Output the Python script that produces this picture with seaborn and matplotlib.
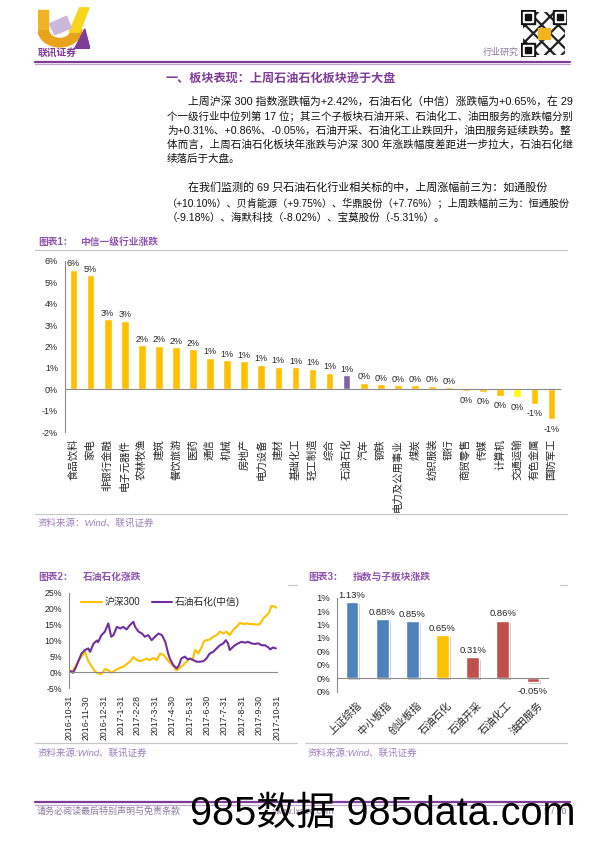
import numpy as np
import pandas as pd
import matplotlib
matplotlib.use('Agg')
import matplotlib.pyplot as plt
import matplotlib.dates as mdates
import matplotlib.patheffects as pe
from matplotlib.patches import Rectangle, Polygon, Wedge
import seaborn as sns

# ---------------- data ----------------
industries = ['食品饮料', '家电', '非银行金融', '电子元器件', '农林牧渔', '建筑', '餐饮旅游', '医药',
              '通信', '机械', '房地产', '电力设备', '建材', '基础化工', '轻工制造', '综合', '石油石化',
              '汽车', '钢铁', '电力及公用事业', '煤炭', '纺织服装', '银行', '商贸零售', '传媒', '计算机',
              '交通运输', '有色金属', '国防军工']
industry_change = [5.60, 5.33, 3.28, 3.21, 2.07, 2.04, 1.97, 1.87, 1.47, 1.35, 1.30, 1.14, 1.05, 1.02,
                   0.96, 0.77, 0.65, 0.31, 0.25, 0.20, 0.20, 0.17, 0.11, -0.06, -0.11, -0.31, -0.36,
                   -0.67, -1.41]

hs300_dates = ['2016-10-31', '2016-11-07', '2016-11-16', '2016-11-22', '2016-11-28', '2016-12-04',
               '2016-12-10', '2016-12-16', '2016-12-21', '2016-12-27', '2017-01-02', '2017-01-08',
               '2017-01-14', '2017-01-20', '2017-01-26', '2017-02-03', '2017-02-09', '2017-02-15',
               '2017-02-21', '2017-02-27', '2017-03-05', '2017-03-10', '2017-03-16', '2017-03-22',
               '2017-03-28', '2017-04-03', '2017-04-09', '2017-04-15', '2017-04-20', '2017-04-26',
               '2017-04-29', '2017-05-03', '2017-05-07', '2017-05-10', '2017-05-14', '2017-05-19',
               '2017-05-25', '2017-05-31', '2017-06-05', '2017-06-09', '2017-06-15', '2017-06-21',
               '2017-06-24', '2017-06-29', '2017-07-05', '2017-07-11', '2017-07-17', '2017-07-23',
               '2017-07-29', '2017-08-03', '2017-08-09', '2017-08-15', '2017-08-21', '2017-08-27',
               '2017-09-02', '2017-09-08', '2017-09-13', '2017-09-19', '2017-09-25', '2017-10-01',
               '2017-10-07', '2017-10-13', '2017-10-17', '2017-10-21', '2017-10-27', '2017-10-31']
hs300_values = [0.0, 0.6, 3.3, 5.0, 6.4, 3.5, 1.7, 0.1, -0.4, -0.6, 1.0, 0.6, -0.2, 0.6, 1.2, 1.7,
                2.5, 3.3, 4.8, 3.8, 3.5, 3.8, 4.3, 3.8, 4.5, 3.8, 5.9, 5.4, 4.3, 3.0, 2.5, 1.8, 0.6,
                0.8, 1.5, 2.2, 3.3, 4.3, 4.0, 7.0, 5.9, 8.0, 9.6, 10.1, 10.3, 11.2, 11.7, 12.8, 12.2,
                12.8, 11.7, 13.3, 14.3, 15.6, 15.2, 15.4, 15.2, 15.2, 15.0, 15.2, 17.0, 18.0, 18.8,
                20.9, 20.7, 20.3]

petro_dates = ['2016-10-31', '2016-11-03', '2016-11-07', '2016-11-12', '2016-11-16', '2016-11-22',
               '2016-11-28', '2016-12-04', '2016-12-07', '2016-12-13', '2016-12-19', '2016-12-21',
               '2016-12-27', '2017-01-02', '2017-01-08', '2017-01-13', '2017-01-17', '2017-01-23',
               '2017-01-29', '2017-02-03', '2017-02-09', '2017-02-15', '2017-02-21', '2017-02-24',
               '2017-03-02', '2017-03-08', '2017-03-13', '2017-03-19', '2017-03-25', '2017-03-31',
               '2017-04-06', '2017-04-12', '2017-04-18', '2017-04-23', '2017-04-26', '2017-05-02',
               '2017-05-08', '2017-05-12', '2017-05-16', '2017-05-22', '2017-05-28', '2017-05-31',
               '2017-06-06', '2017-06-12', '2017-06-18', '2017-06-24', '2017-06-29', '2017-07-05',
               '2017-07-11', '2017-07-17', '2017-07-23', '2017-07-29', '2017-08-02', '2017-08-06',
               '2017-08-09', '2017-08-12', '2017-08-18', '2017-08-24', '2017-08-30', '2017-09-05',
               '2017-09-10', '2017-09-16', '2017-09-22', '2017-09-28', '2017-10-04', '2017-10-10',
               '2017-10-16', '2017-10-19', '2017-10-24', '2017-10-29']
petro_values = [0.0, 0.3, -0.2, 1.5, 3.3, 5.9, 7.0, 7.5, 6.4, 9.0, 10.0, 9.5, 11.7, 12.8, 15.4, 11.2,
                11.7, 14.3, 13.8, 14.3, 13.5, 14.9, 15.9, 14.3, 12.8, 12.2, 11.2, 11.7, 10.1, 11.2,
                12.2, 11.7, 9.6, 5.9, 4.3, 2.2, 1.2, 2.2, 4.3, 4.9, 4.0, 4.3, 3.8, 3.3, 3.3, 3.5, 4.3,
                5.9, 6.4, 7.5, 8.5, 9.1, 10.1, 9.1, 7.0, 7.5, 8.5, 9.1, 9.6, 9.3, 9.6, 9.1, 8.9, 9.1,
                8.5, 8.5, 7.8, 7.2, 7.8, 7.5]

month_ticks = ['2016-10-31', '2016-11-30', '2016-12-31', '2017-01-31', '2017-02-28', '2017-03-31',
               '2017-04-30', '2017-05-31', '2017-06-30', '2017-07-31', '2017-08-31', '2017-09-30',
               '2017-10-31']
month_labels = ['2016-10-31', '2016-11-30', '2016-12-31', '2017-1-31', '2017-2-28', '2017-3-31',
                '2017-4-30', '2017-5-31', '2017-6-30', '2017-7-31', '2017-8-31', '2017-9-30',
                '2017-10-31']
line_names = ['沪深300', '石油石化(中信)']

sub_names = ['上证综指', '中小板指', '创业板指', '石油石化', '石油开采', '石油化工', '油田服务']
sub_change = [1.13, 0.88, 0.85, 0.65, 0.31, 0.86, -0.05]

heading = '一、板块表现：上周石油石化板块逊于大盘'
para1 = ['上周沪深 300 指数涨跌幅为+2.42%，石油石化（中信）涨跌幅为+0.65%，在 29',
         '个一级行业中位列第 17 位；其三个子板块石油开采、石油化工、油田服务的涨跌幅分别',
         '为+0.31%、+0.86%、-0.05%，石油开采、石油化工止跌回升，油田服务延续跌势。整',
         '体而言，上周石油石化板块年涨跌与沪深 300 年涨跌幅度差距进一步拉大，石油石化继',
         '续落后于大盘。']
para2 = ['在我们监测的 69 只石油石化行业相关标的中，上周涨幅前三为：如通股份',
         '（+10.10%）、贝肯能源（+9.75%）、华鼎股份（+7.76%）；上周跌幅前三为：恒通股份',
         '（-9.18%）、海默科技（-8.02%）、宝莫股份（-5.31%）。']

# ---------------- style ----------------
sns.set_theme(style='white')
FAM = ['Liberation Sans', 'Noto Sans CJK SC', 'DejaVu Sans']
plt.rcParams['font.family'] = FAM
plt.rcParams['axes.unicode_minus'] = False
plt.rcParams['hatch.linewidth'] = 1.6

PURPLE = '#7E3C98'
TITLE_PURPLE = '#8F55AE'
SRC_PURPLE = '#9C7FB8'
GRAY = '#8C8C8C'
RULE = '#C8C8C8'
TXT = '#262626'
ORANGE = '#FFC000'

W, H = 596, 843
fig = plt.figure(figsize=(W / 100, H / 100), dpi=100)
R = fig.canvas.get_renderer()


def fx(x):
    return x / W


def fy(y):
    return 1 - y / H


def box(l, t, r, b):
    return [l / W, 1 - b / H, (r - l) / W, (b - t) / H]


def hline(x0, x1, y, color, lw):
    fig.add_artist(plt.Line2D([fx(x0), fx(x1)], [fy(y), fy(y)], color=color, lw=lw,
                              transform=fig.transFigure))


def ftext(x, y, s, **kw):
    kw.setdefault('va', 'center')
    kw.setdefault('ha', 'left')
    return fig.text(fx(x), fy(y), s, **kw)


def body_line(x0, x1, y, s, size, justify):
    t = ftext(x0, y, s, fontsize=size, color='#111111')
    if justify:
        w = t.get_window_extent(renderer=R).width
        t.set_fontsize(min(max(size * (x1 - x0) / w, 7.1), 7.95))
    return t


def pct0(v):
    r = int(round(v))
    return '0%' if r == 0 else f'{r}%'


# ---------------- page header ----------------
axl = fig.add_axes(box(38, 7, 90, 49))
axl.set_xlim(0, 1)
axl.set_ylim(0, 1)
axl.axis('off')
axl.add_patch(Wedge((0.42, 0.47), 0.42, 180, 360, width=0.2, color='#E9A21B'))
axl.add_patch(Rectangle((0.0, 0.47), 0.2, 0.45, color='#F2B322'))
axl.add_patch(Polygon([(0.6, 0.4), (0.8, 0.4), (0.98, 0.98), (0.8, 0.98)], color='#F8D51C'))
axl.add_patch(Polygon([(0.22, 0.6), (0.55, 0.78), (0.64, 0.5), (0.32, 0.34)], color='#CDB6DC'))
axl.add_patch(Polygon([(0.7, 0.0), (1.0, 0.0), (0.9, 0.48)], color=PURPLE))
ftext(38, 53, '联讯证券', fontsize=7, color=PURPLE, weight='bold')

axq = fig.add_axes(box(521, 10, 567, 57))
axq.set_xlim(0, 1)
axq.set_ylim(0, 1)
axq.axis('off')
axq.add_patch(Rectangle((0.05, 0.05), 0.9, 0.9, facecolor='white', edgecolor='#222222', hatch='xx', lw=0))
for (cx, cy) in [(0.0, 0.7), (0.7, 0.7), (0.0, 0.0)]:
    axq.add_patch(Rectangle((cx, cy), 0.3, 0.3, color='#111111'))
    axq.add_patch(Rectangle((cx + 0.04, cy + 0.04), 0.22, 0.22, color='white'))
    axq.add_patch(Rectangle((cx + 0.08, cy + 0.08), 0.14, 0.14, color='#111111'))
axq.add_patch(Rectangle((0.38, 0.38), 0.24, 0.24, color='#F2B322'))
ftext(483, 52, '行业研究', fontsize=6.5, color='#8C7A9E')

hline(35, 570, 61.5, PURPLE, 1.6)
hline(35, 570, 64.2, '#BFA6CF', 0.9)

# ---------------- text ----------------
ftext(166, 79, heading, fontsize=8.7, color=PURPLE, weight='bold')
BODY = 7.6
p1_y = [102, 116.2, 130.4, 144.6, 158.8]
p2_y = [187.3, 202.6, 217.9]
for i, (line, yy) in enumerate(zip(para1, p1_y)):
    body_line(188 if i == 0 else 167, 570, yy, line, BODY, i < len(para1) - 1)
for i, (line, yy) in enumerate(zip(para2, p2_y)):
    body_line(188 if i == 0 else 167, 570, yy, line, BODY, i < len(para2) - 1)

# ---------------- chart 1 ----------------
ftext(38, 242, '图表1：', fontsize=7, color=TITLE_PURPLE, weight='bold')
ftext(80, 242, '中信一级行业涨跌', fontsize=7, color=TITLE_PURPLE, weight='bold')
hline(35, 567, 249.5, RULE, 0.9)

colors1 = [ORANGE] * len(industries)
colors1[industries.index('石油石化')] = '#8064A2'
colors1[industries.index('交通运输')] = '#FFFF00'
ax1 = fig.add_axes(box(65, 261, 560, 432))
sns.barplot(x=industries, y=industry_change, hue=industries, palette=colors1, legend=False,
            width=0.45, saturation=1, ax=ax1)
n1 = len(industries)
ax1.set_xlim(-0.5, n1 - 0.5)
ax1.set_ylim(-2, 6)
ax1.set_yticks(range(-2, 7))
ax1.set_yticklabels([f'{t}%' for t in range(-2, 7)])
ax1.set_xticks(np.arange(-0.5, n1, 1))
ax1.tick_params(axis='x', direction='out', length=3, color=GRAY, width=0.8, labelbottom=False)
ax1.tick_params(axis='y', direction='out', length=3, color=GRAY, width=0.8, labelsize=6.5,
                labelcolor=TXT, pad=2)
ax1.set_xlabel('')
ax1.set_ylabel('')
for s in ['top', 'right']:
    ax1.spines[s].set_visible(False)
ax1.spines['bottom'].set_position(('data', 0))
for s in ['left', 'bottom']:
    ax1.spines[s].set_color(GRAY)
    ax1.spines[s].set_linewidth(0.8)
ax1.patch.set_alpha(0)
for i, name in enumerate(industries):
    ax1.annotate(name, xy=(i, 0), xycoords=ax1.get_xaxis_transform(), xytext=(0, -5),
                 textcoords='offset points', rotation=90, ha='center', va='top',
                 fontsize=7.5, color=TXT)
for i, v in enumerate(industry_change):
    ax1.annotate(pct0(v), xy=(i, v), xytext=(0, 1 if v >= 0 else -4), textcoords='offset points',
                 ha='center', va='bottom' if v >= 0 else 'top', fontsize=6.5, color=TXT)

hline(35, 567, 514, RULE, 0.9)
ftext(37, 523, '资料来源：Wind、联讯证券', fontsize=6.8, color=SRC_PURPLE, style='italic')

# ---------------- chart 2 ----------------
ftext(38, 577, '图表2：', fontsize=7, color=TITLE_PURPLE, weight='bold')
ftext(83, 577, '石油石化涨跌', fontsize=7, color=TITLE_PURPLE, weight='bold')
hline(288, 297, 585, RULE, 0.9)

ax2 = fig.add_axes(box(69, 593, 277, 688))
sns.lineplot(x=pd.to_datetime(hs300_dates), y=hs300_values, color=ORANGE, lw=1.5, ax=ax2,
             label=line_names[0])
sns.lineplot(x=pd.to_datetime(petro_dates), y=petro_values, color='#7030A0', lw=1.5, ax=ax2,
             label=line_names[1])
mt = mdates.date2num(pd.to_datetime(month_ticks).to_pydatetime())
ax2.set_xlim(mt[0], mt[-1])
ax2.set_ylim(-5, 25)
ax2.set_yticks(range(-5, 26, 5))
ax2.set_yticklabels([f'{t}%' for t in range(-5, 26, 5)])
ax2.set_xticks(mt)
ax2.tick_params(axis='x', direction='out', length=3, color=GRAY, width=0.8, labelbottom=False)
ax2.tick_params(axis='y', direction='out', length=3, color=GRAY, width=0.8, labelsize=6.3,
                labelcolor=TXT, pad=2)
ax2.set_xlabel('')
ax2.set_ylabel('')
for s in ['top', 'right']:
    ax2.spines[s].set_visible(False)
ax2.spines['bottom'].set_position(('data', 0))
for s in ['left', 'bottom']:
    ax2.spines[s].set_color(GRAY)
    ax2.spines[s].set_linewidth(0.8)
ax2.patch.set_alpha(0)
for d, lab in zip(mt, month_labels):
    ax2.annotate(lab, xy=(float(d), 0), xycoords=ax2.get_xaxis_transform(), xytext=(0, -5),
                 textcoords='offset points', rotation=90, ha='center', va='top',
                 fontsize=6.3, color=TXT)
ax2.legend(loc='center left', bbox_to_anchor=(0.06, 0.905), ncol=2, frameon=False,
           fontsize=7, handlelength=2.1, handletextpad=0.25, columnspacing=1.2,
           borderpad=0, borderaxespad=0)

hline(35, 297, 743, RULE, 0.9)
ftext(37, 753, '资料来源:Wind、联讯证券', fontsize=6.8, color=SRC_PURPLE, style='italic')

# ---------------- chart 3 ----------------
ftext(308, 577, '图表3：', fontsize=7, color=TITLE_PURPLE, weight='bold')
ftext(353, 577, '指数与子板块涨跌', fontsize=7, color=TITLE_PURPLE, weight='bold')
hline(560, 567, 585, RULE, 0.9)

colors3 = ['#4F81BD', '#4F81BD', '#4F81BD', ORANGE, '#C0504D', '#C0504D', '#C0504D']
ax3 = fig.add_axes(box(337, 597.7, 548, 691.7))
sns.barplot(x=sub_names, y=sub_change, hue=sub_names, palette=colors3, legend=False,
            width=0.42, saturation=1, ax=ax3)
n3 = len(sub_names)
ax3.set_xlim(-0.5, n3 - 0.5)
ax3.set_ylim(-0.2, 1.2)
yt3 = np.round(np.arange(-0.2, 1.21, 0.2), 1)
ax3.set_yticks(yt3)
ax3.set_yticklabels([pct0(t) for t in yt3])
ax3.set_xticks(np.arange(-0.5, n3, 1))
ax3.tick_params(axis='x', direction='out', length=3, color=GRAY, width=0.8, labelbottom=False)
ax3.tick_params(axis='y', direction='out', length=3, color=GRAY, width=0.8, labelsize=6.8,
                labelcolor=TXT, pad=2)
ax3.set_xlabel('')
ax3.set_ylabel('')
for s in ['top', 'right']:
    ax3.spines[s].set_visible(False)
ax3.spines['bottom'].set_position(('data', 0))
for s in ['left', 'bottom']:
    ax3.spines[s].set_color(GRAY)
    ax3.spines[s].set_linewidth(0.8)
ax3.patch.set_alpha(0)
for p in ax3.patches:
    p.set_path_effects([pe.SimplePatchShadow(offset=(1.5, -1.5), alpha=0.25), pe.Normal()])
for i, name in enumerate(sub_names):
    ax3.annotate(name, xy=(i, 0), xycoords=ax3.get_xaxis_transform(), xytext=(3, -6),
                 textcoords='offset points', rotation=45, ha='right', va='top',
                 rotation_mode='anchor', fontsize=7.5, color=TXT)
for i, v in enumerate(sub_change):
    ax3.annotate(f'{v:.2f}%', xy=(i, v), xytext=(0, 1.5 if v >= 0 else -4),
                 textcoords='offset points', ha='center', va='bottom' if v >= 0 else 'top',
                 fontsize=6.8, color=TXT)

hline(305, 567, 743, RULE, 0.9)
ftext(307, 753, '资料来源:Wind、联讯证券', fontsize=6.8, color=SRC_PURPLE, style='italic')

# ---------------- footer ----------------
hline(35, 570, 802, PURPLE, 1.6)
hline(35, 570, 804.6, '#BFA6CF', 0.9)
ftext(37, 811, '请务必阅读最后特别声明与免责条款', fontsize=6.5, color='#8C7A9E')
ftext(272, 811, 'www.lxsec.com', fontsize=6.5, color='#8C7A9E')
ftext(567, 811, '5 / 20', fontsize=6.5, color='#8C7A9E', ha='right')
ftext(190, 814, '985数据 985data.com', fontsize=28.5, color='black')

fig.savefig('out.png', dpi=100)
